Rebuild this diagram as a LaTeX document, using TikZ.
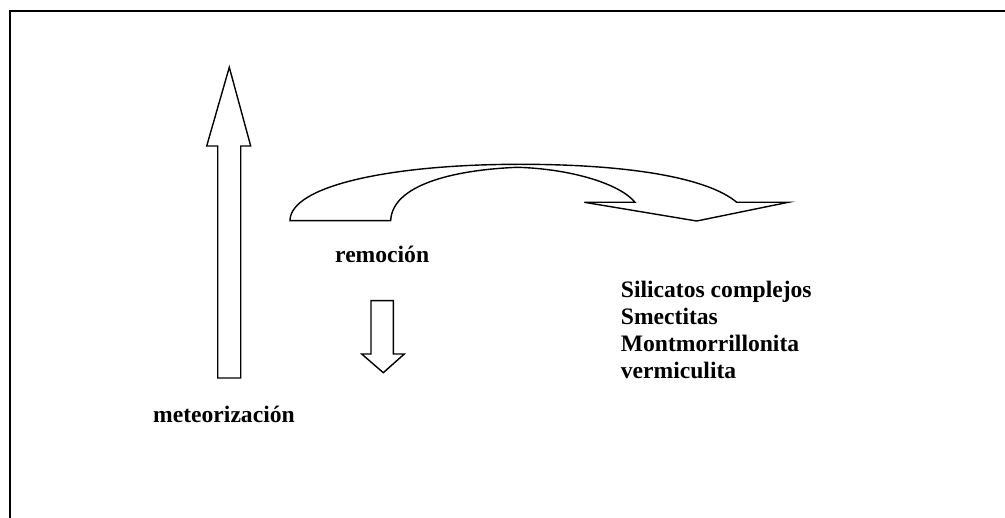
\documentclass[tikz,border=0pt]{standalone}
\usepackage{fontspec}
\setmainfont{Liberation Serif}
\begin{document}
\begin{tikzpicture}[x=1pt,y=-1pt,
  blockarrow/.style={draw=black,line width=1.4pt,line join=miter,fill=white},
  frameline/.style={draw=black,line width=2.5pt},
  lbl/.style={font=\fontsize{23.6}{27}\selectfont\bfseries,inner sep=0pt,anchor=base west}]
\fill[white] (0,0) rectangle (1005,518);
\useasboundingbox (0,0) rectangle (1005,518);
% frame (top and left edges visible)
\draw[frameline] (10,518) -- (10,11) -- (1005,11);
% upward arrow
\draw[blockarrow] (217.7,378) -- (217.7,146) -- (206.7,146) -- (229.3,67.3) -- (250.7,146) -- (240.7,146) -- (240.7,378) -- cycle;
% downward arrow
\draw[blockarrow] (371,300.7) -- (393.3,300.7) -- (393.3,354) -- (404.3,354) -- (383.3,372.7) -- (361.7,354) -- (371,354) -- cycle;
% curved arrow
\draw[blockarrow] (290,220.7) -- (390.7,220.7)
  .. controls (392,186) and (450,170) .. (517.7,167.3)
  .. controls (572,169) and (620,184) .. (635,202.3)
  -- (584.3,202.3) -- (696.7,221) -- (788.3,202.3) -- (736.7,202.3)
  .. controls (708,178) and (630,164.3) .. (520,164.3)
  .. controls (390,164.3) and (290,186) .. cycle;
% labels
\node[lbl] (met) at (153,423) {meteorización};
\node[lbl] (rem) at (335,263) {remoción};
\node[lbl] (sil1) at (620.7,298) {Silicatos complejos};
\node[lbl] (sil2) at (620.7,325) {Smectitas};
\node[lbl] (sil3) at (620.7,352) {Montmorrillonita};
\node[lbl] (sil4) at (620.7,379) {vermiculita};
\end{tikzpicture}
\end{document}
